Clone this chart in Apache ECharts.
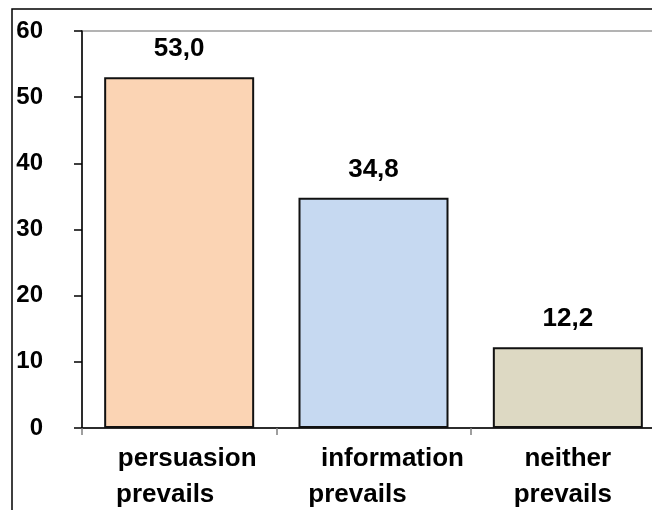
<!DOCTYPE html>
<html>
<head>
<meta charset="utf-8">
<script src="https://cdn.jsdelivr.net/npm/echarts@6/dist/echarts.min.js"></script>
<style>
  html, body { margin: 0; padding: 0; background: #fff; overflow: hidden; width: 652px; height: 510px; }
  /* the chart canvas is wider than the window; its right edge is cropped */
  #chart { width: 665px; height: 510px; }
</style>
</head>
<body>
<div id="chart"></div>
<script>
// Outcome shares (%) per category
const categories = ['persuasion\nprevails', 'information\nprevails', 'neither\nprevails'];
const shares = [53.0, 34.8, 12.2];
const yTicks = [0, 10, 20, 30, 40, 50, 60];

const barColors = ['#FBD4B4', '#C6D9F1', '#DDD9C3'];
const fontFamily = '"Liberation Sans", Arial, sans-serif';

// Horizontal nudges (px) for the two lines of each category label
const lineShift = [[8, -14], [19, -16], [0, -5]];

const rich = {};
lineShift.forEach((pair, i) => {
  pair.forEach((d, j) => {
    rich['c' + i + 'l' + j] = {
      fontSize: 26, fontWeight: 'bold', color: '#000', fontFamily: fontFamily,
      lineHeight: 36,
      padding: d >= 0 ? [0, 0, 0, 2 * d] : [0, -2 * d, 0, 0]
    };
  });
});

const chart = echarts.init(document.getElementById('chart'), null, { renderer: 'canvas' });

chart.setOption({
  animation: false,
  backgroundColor: '#fff',
  graphic: [{
    type: 'rect',
    shape: { x: 12, y: 9, width: 800, height: 700 },
    style: { fill: 'none', stroke: '#000', lineWidth: 1.5 },
    z: 0
  }],
  grid: {
    left: 82, right: 0, top: 31, bottom: 82,
    show: true, borderColor: '#9a9a9a', borderWidth: 1.5, backgroundColor: 'transparent'
  },
  xAxis: {
    type: 'category',
    data: categories,
    axisLine: { lineStyle: { color: '#000', width: 1.5 } },
    axisTick: { show: true, alignWithLabel: false, length: 7, lineStyle: { color: '#808080', width: 1.5 } },
    axisLabel: {
      margin: 13,
      interval: 0,
      formatter: function (value, idx) {
        return value.split('\n').map((t, j) => '{c' + idx + 'l' + j + '|' + t + '}').join('\n');
      },
      rich: rich
    }
  },
  yAxis: {
    type: 'value',
    min: yTicks[0],
    max: yTicks[yTicks.length - 1],
    interval: yTicks[1] - yTicks[0],
    splitLine: { show: false },
    axisLine: { show: true, lineStyle: { color: '#000', width: 1.5 } },
    axisTick: { show: true, inside: false, length: 8, lineStyle: { color: '#000', width: 1.5 } },
    axisLabel: {
      margin: 39,
      fontSize: 24, fontWeight: 'bold', color: '#000', fontFamily: fontFamily,
      padding: [0, 0, 4, 0]
    }
  },
  series: [{
    type: 'bar',
    data: shares.map((v, i) => ({ value: v, itemStyle: { color: barColors[i] } })),
    barWidth: 150,
    itemStyle: { borderColor: '#111', borderWidth: 2 },
    label: {
      show: true,
      position: 'top',
      distance: 15,
      fontSize: 26, fontWeight: 'bold', color: '#000', fontFamily: fontFamily,
      formatter: p => p.value.toFixed(1).replace('.', ',')
    }
  }]
});
</script>
</body>
</html>
